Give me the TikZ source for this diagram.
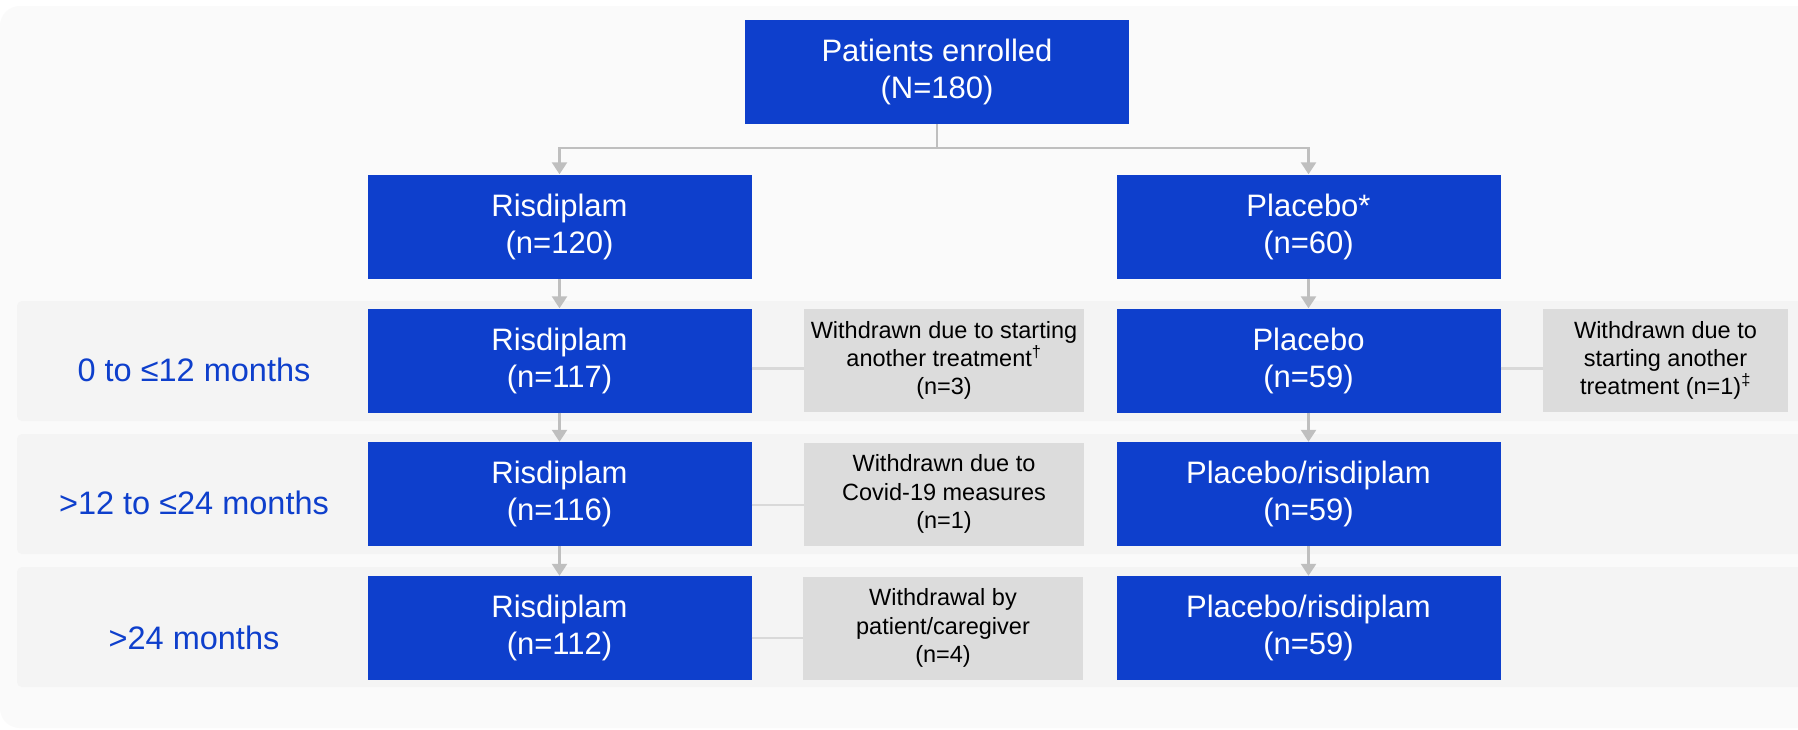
\documentclass[tikz,border=0pt]{standalone}
\usepackage{fontspec}
\setmainfont{Liberation Sans}
\usetikzlibrary{arrows.meta}
\definecolor{trialblue}{HTML}{0E3FCC}
\definecolor{bandgray}{HTML}{F4F4F4}
\definecolor{pagegray}{HTML}{FAFAFA}
\definecolor{boxgray}{HTML}{DCDCDC}
\definecolor{linegray}{HTML}{BFBFBF}
\definecolor{sidegray}{HTML}{D9D9D9}
\tikzset{
  arm/.style={fill=trialblue, text=white, minimum width=384pt, minimum height=104pt,
    inner sep=0pt, align=center, font=\fontsize{31}{37}\selectfont},
  drop/.style={fill=boxgray, minimum width=280pt, minimum height=103pt,
    inner sep=0pt, align=center, font=\fontsize{23.5}{28.3}\selectfont},
  period/.style={text=trialblue, font=\fontsize{32.5}{38}\selectfont},
  flow/.style={draw=linegray, line width=2.5pt, -{Triangle[length=12pt,width=15pt]}},
  side/.style={draw=sidegray, line width=2.5pt},
}

\begin{document}
\begin{tikzpicture}[x=1pt,y=-1pt]
        \useasboundingbox (0,0) rectangle (1798,729);
        \fill[white] (0,0) rectangle (1798,729);
        \fill[pagegray,rounded corners=20pt] (0,6) rectangle (1830,728);
        \foreach \ty in {301,434,567}{%
            \fill[bandgray,rounded corners=5pt] (17,\ty) rectangle (1830,\ty+120);}
        % time periods
        \node[period] (L1) at (194,370) {0 to ≤12 months};
        \node[period] (L2) at (194,503) {>12 to ≤24 months};
        \node[period] (L3) at (194,638) {>24 months};
        % arms
        \node[arm] (E)  at (937,72)      {Patients enrolled\\(N=180)};
        \node[arm] (R0) at (559.5,226.5) {Risdiplam\\(n=120)};
        \node[arm] (P0) at (1308.5,226.5) {Placebo*\\(n=60)};
        \node[arm] (R1) at (559.5,360.5) {Risdiplam\\(n=117)};
        \node[arm] (P1) at (1308.5,360.5) {Placebo\\(n=59)};
        \node[arm] (R2) at (559.5,494)   {Risdiplam\\(n=116)};
        \node[arm] (P2) at (1308.5,494)  {Placebo/risdiplam\\(n=59)};
        \node[arm] (R3) at (559.5,628)   {Risdiplam\\(n=112)};
        \node[arm] (P3) at (1308.5,628)  {Placebo/risdiplam\\(n=59)};
        % withdrawals
        \node[drop] (W1) at (944,360.5) {Withdrawn due to starting\\another treatment\textsuperscript{†}\\(n=3)};
        \node[drop] (W2) at (944,494)   {Withdrawn due to\\Covid-19 measures\\(n=1)};
        \node[drop] (W3) at (943,628)   {Withdrawal by\\patient/caregiver\\(n=4)};
        \node[drop,minimum width=245pt] (W4) at (1665.5,360.5) {Withdrawn due to\\starting another\\treatment (n=1)\textsuperscript{‡}};
        % connectors
        \coordinate (fork) at (937,148);
        \draw[flow] (E.south) -- (E.south |- fork) -| (R0.north);
        \draw[flow] (E.south) -- (E.south |- fork) -| (P0.north);
        \foreach \a/\b in {R0/R1,R1/R2,R2/R3,P0/P1,P1/P2,P2/P3}{%
            \draw[flow] (\a) -- (\b);}
        \foreach \a/\b/\d in {R1/W1/8pt,R2/W2/11pt,R3/W3/10pt,P1/W4/8pt}{%
            \draw[side] ([yshift=-\d]\a.east) -- ([yshift=-\d]\b.west);}
    \end{tikzpicture}
\end{document}
